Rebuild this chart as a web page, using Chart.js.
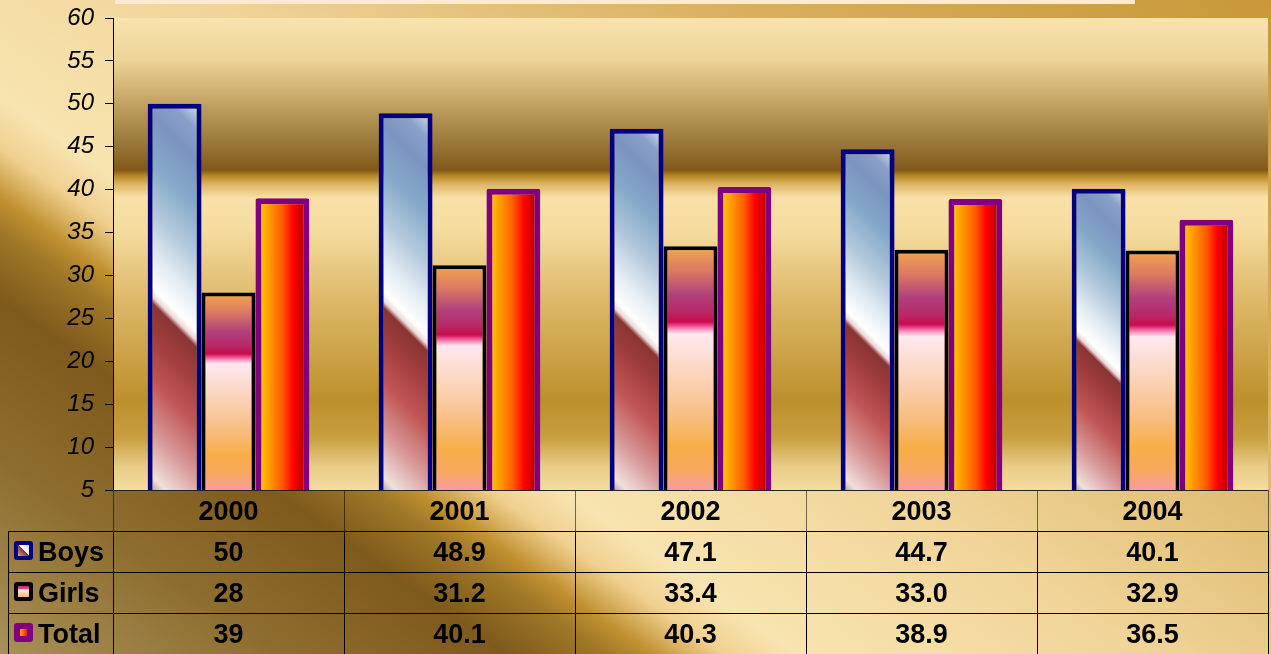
<!DOCTYPE html>
<html lang="en">
<head>
<meta charset="UTF-8">
<title>Boys / Girls / Total 2000-2004</title>
<script src="https://cdn.jsdelivr.net/npm/chart.js@4.4.1/dist/chart.umd.min.js"></script>
<style>
  html, body { margin: 0; padding: 0; overflow: hidden; background: #d8b468; }
  #wrap { width: 1271px; height: 654px; }
</style>
</head>
<body>
<div id="wrap"><canvas id="chart" width="1271" height="654"></canvas></div>
<script>
// data
const years = ['2000', '2001', '2002', '2003', '2004'];
const boys  = [50, 48.9, 47.1, 44.7, 40.1];
const girls = [28, 31.2, 33.4, 33.0, 32.9];
const total = [39, 40.1, 40.3, 38.9, 36.5];
// text shown in the data table
const boysText  = ['50', '48.9', '47.1', '44.7', '40.1'];
const girlsText = ['28', '31.2', '33.4', '33.0', '32.9'];
const totalText = ['39', '40.1', '40.3', '38.9', '36.5'];
const seriesNames = ['Boys', 'Girls', 'Total'];
const yMin = 5, yMax = 60, yStep = 5;

const FONT = '"Liberation Sans", Arial, sans-serif';
const CAT_PCT = 0.7;

// where a bar sits, from the scales
function barBox(ctx) {
    const chart = ctx.chart;
    const area = chart.chartArea;
    const xs = chart.scales.x, ys = chart.scales.y;
    if (!area || !xs || !ys) return null;
    const cat = (area.right - area.left) / years.length;
    const bw = cat * CAT_PCT / 3;
    const cx = xs.getPixelForValue(ctx.dataIndex) + (ctx.datasetIndex - 1) * bw;
    return {
        left: cx - bw / 2, right: cx + bw / 2,
        top: ys.getPixelForValue(ctx.raw), bottom: ys.getPixelForValue(yMin)
    };
}

function addStops(g, stops) {
    stops.forEach(s => g.addColorStop(s[0], s[1]));
    return g;
}

const boysStops = [
    [0, '#dce9f2'], [0.07, '#8aa0c8'], [0.14, '#7c94c2'], [0.24, '#84a8c8'],
    [0.36, '#b4cadc'], [0.46, '#e4edf4'], [0.53, '#ffffff'], [0.55, '#ecd8d8'],
    [0.565, '#8a3434'], [0.64, '#a23e3e'], [0.74, '#c25656'], [0.86, '#d89a9a'],
    [0.96, '#f0e0dc'], [1, '#b09090']
];
const girlsStops = [
    [0, '#f2a650'], [0.1, '#dc7a62'], [0.2, '#b0407c'], [0.27, '#b82868'],
    [0.31, '#c80c4c'], [0.325, '#e84890'], [0.34, '#f890b8'], [0.36, '#ffe8f0'],
    [0.5, '#fcd8c4'], [0.68, '#f8c088'], [0.82, '#f8ae48'], [0.92, '#f8a860'],
    [1, '#f89ca0']
];
const totalStops = [
    [0, '#ffdc00'], [0.25, '#ff9a00'], [0.5, '#ff5a00'], [0.7, '#ff0000'],
    [0.88, '#c00000'], [1, '#900000']
];

function boysFill(ctx) {
    const b = barBox(ctx);
    if (!b) return '#a0b8d0';
    const w = b.right - b.left, h = b.bottom - b.top, d = (w + h) / 2;
    const g = ctx.chart.ctx.createLinearGradient(b.right, b.top, b.right - d, b.top + d);
    return addStops(g, boysStops);
}
function girlsFill(ctx) {
    const b = barBox(ctx);
    if (!b) return '#f8c090';
    const g = ctx.chart.ctx.createLinearGradient(0, b.top, 0, b.bottom);
    return addStops(g, girlsStops);
}
function totalFill(ctx) {
    const b = barBox(ctx);
    if (!b) return '#ff5000';
    const g = ctx.chart.ctx.createLinearGradient(b.left, 0, b.right, 0);
    return addStops(g, totalStops);
}

// golden backgrounds
const bgPlugin = {
    id: 'goldBg',
    beforeDraw(chart) {
        const c = chart.ctx, a = chart.chartArea;
        c.save();
        const g = c.createLinearGradient(0, chart.height, 725, -382);
        addStops(g, [
            [0, '#a89058'], [0.126, '#8e6e30'], [0.23, '#7e5a1c'], [0.275, '#a07828'],
            [0.295, '#c09030'], [0.328, '#f0d090'], [0.36, '#f8e4b0'], [0.52, '#f0d498'],
            [0.75, '#d8b060'], [1, '#c89838']
        ]);
        c.fillStyle = g;
        c.fillRect(0, 0, chart.width, chart.height);

        const p = c.createLinearGradient(0, a.top, 0, a.bottom);
        addStops(p, [
            [0, '#f9e3ae'], [0.09, '#edd398'], [0.17, '#c8a868'], [0.25, '#a08040'],
            [0.322, '#82581a'], [0.335, '#b88a28'], [0.354, '#e0b868'], [0.381, '#f8e0a8'],
            [0.447, '#f5dca0'], [0.6, '#ddb868'], [0.81, '#bc902c'], [0.89, '#c8a040'],
            [0.95, '#e8cc88'], [1, '#f5dca0']
        ]);
        c.fillStyle = p;
        c.fillRect(a.left, a.top, a.right - a.left, a.bottom - a.top);

        // bottom edge of the title box
        c.fillStyle = '#fcebd2';
        c.fillRect(a.left + 2, 0, (a.right - a.left) * 0.883, 4);
        c.restore();
    }
};

// data table under the plot
const tablePlugin = {
    id: 'dataTable',
    afterDraw(chart) {
        const c = chart.ctx, a = chart.chartArea, xs = chart.scales.x;
        const rowH = 41;
        const top = a.bottom;
        const rows = [boysText, girlsText, totalText];
        const lineTop = top + rowH;
        const bottom = chart.height;
        const labelLeft = 8;
        const cat = (a.right - a.left) / years.length;

        c.save();
        // header row lines
        c.lineWidth = 1;
        c.strokeStyle = 'rgba(0,0,0,0.55)';
        c.beginPath();
        for (let i = 0; i <= years.length; i++) {
            const x = Math.round(a.left + i * cat) + 0.5;
            c.moveTo(x, top); c.lineTo(x, lineTop);
        }
        c.stroke();
        c.strokeStyle = '#222';
        c.beginPath();
        c.moveTo(a.left, top + 0.5); c.lineTo(a.right, top + 0.5);
        c.stroke();

        // body lines
        c.strokeStyle = '#000';
        c.beginPath();
        for (let r = 0; r < rows.length; r++) {
            const y = Math.round(lineTop + r * rowH) + 0.5;
            c.moveTo(labelLeft, y); c.lineTo(a.right, y);
        }
        c.moveTo(labelLeft + 0.5, lineTop); c.lineTo(labelLeft + 0.5, bottom);
        for (let i = 0; i <= years.length; i++) {
            const x = Math.round(a.left + i * cat) + 0.5;
            c.moveTo(x, lineTop); c.lineTo(x, bottom);
        }
        c.stroke();

        // texts
        c.fillStyle = '#000';
        c.font = 'bold 27px ' + FONT;
        c.textAlign = 'center';
        c.textBaseline = 'alphabetic';
        years.forEach((yr, i) => {
            c.fillText(yr, xs.getPixelForValue(i), top + 30);
        });
        rows.forEach((vals, r) => {
            const base = lineTop + r * rowH + 30;
            vals.forEach((v, i) => c.fillText(v, xs.getPixelForValue(i), base));
        });

        // row labels with legend keys
        c.textAlign = 'left';
        const keyBorders = ['#000080', '#000000', '#800080'];
        rows.forEach((vals, r) => {
            const ky = lineTop + r * rowH + 10;
            const kx = 14;
            c.fillStyle = keyBorders[r];
            roundRect(c, kx, ky, 19, 19, 3);
            c.fill();
            const ix = kx + 4, iy = ky + 4, s = 11;
            let g;
            if (r === 0) {
                g = c.createLinearGradient(ix + s, iy, ix, iy + s);
                addStops(g, [[0, '#c8d8ec'], [0.45, '#ffffff'], [0.5, '#8a3434'], [1, '#d8a0a0']]);
            } else if (r === 1) {
                g = c.createLinearGradient(0, iy, 0, iy + s);
                addStops(g, [[0, '#c02868'], [0.25, '#e05090'], [0.35, '#ffe8f0'], [1, '#f8b870']]);
            } else {
                g = c.createLinearGradient(ix, 0, ix + s, 0);
                addStops(g, [[0, '#ffcc00'], [0.5, '#ff6000'], [1, '#e00000']]);
            }
            c.fillStyle = g;
            if (r === 2) c.fillRect(ix + 2, iy + 2, s - 4, s - 4);
            else c.fillRect(ix, iy, s, s);
            c.fillStyle = '#000';
            c.fillText(seriesNames[r], 38, lineTop + r * rowH + 30);
        });
        c.restore();
    }
};

function roundRect(c, x, y, w, h, r) {
    c.beginPath();
    c.moveTo(x + r, y);
    c.lineTo(x + w - r, y); c.quadraticCurveTo(x + w, y, x + w, y + r);
    c.lineTo(x + w, y + h - r); c.quadraticCurveTo(x + w, y + h, x + w - r, y + h);
    c.lineTo(x + r, y + h); c.quadraticCurveTo(x, y + h, x, y + h - r);
    c.lineTo(x, y + r); c.quadraticCurveTo(x, y, x + r, y);
    c.closePath();
}

const ctx = document.getElementById('chart').getContext('2d');
new Chart(ctx, {
    type: 'bar',
    data: {
        labels: years,
        datasets: [
            { label: 'Boys', data: boys, backgroundColor: boysFill, borderColor: '#000080', borderWidth: 5, borderSkipped: false, borderRadius: 1 },
            { label: 'Girls', data: girls, backgroundColor: girlsFill, borderColor: '#000000', borderWidth: 4, borderSkipped: false },
            { label: 'Total', data: total, backgroundColor: totalFill, borderColor: '#800080', borderWidth: 6, borderSkipped: false, borderRadius: 2 }
        ]
    },
    options: {
        responsive: false,
        animation: false,
        devicePixelRatio: 1,
        layout: { padding: { left: 0, right: 3, top: 18, bottom: 164 } },
        datasets: { bar: { categoryPercentage: CAT_PCT, barPercentage: 1 } },
        plugins: { legend: { display: false }, tooltip: { enabled: false }, title: { display: false } },
        scales: {
            x: { display: false, offset: true },
            y: {
                min: yMin, max: yMax,
                ticks: { stepSize: yStep, color: '#000', padding: 11, font: { family: FONT, size: 24, style: 'italic' } },
                grid: { drawOnChartArea: false, drawTicks: true, tickLength: 8, tickColor: '#000' },
                border: { display: true, color: '#000', width: 1 },
                afterFit(scale) {
                    scale.width = 113;
                    scale.paddingTop = 0;
                    scale.paddingBottom = 0;
                }
            }
        }
    },
    plugins: [bgPlugin, tablePlugin]
});
</script>
</body>
</html>
